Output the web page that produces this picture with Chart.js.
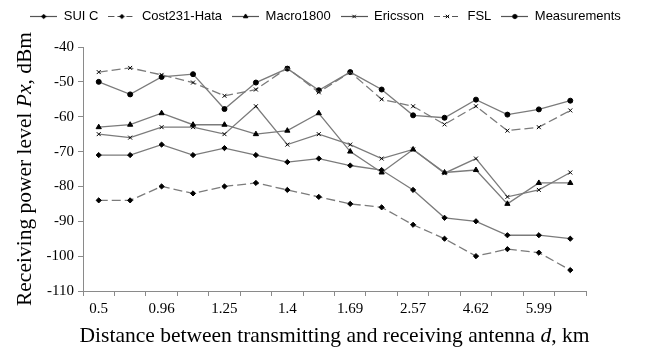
<!DOCTYPE html>
<html>
<head>
<meta charset="utf-8">
<script src="https://cdn.jsdelivr.net/npm/chart.js@4.4.1/dist/chart.umd.min.js"></script>
<style>
  html, body { margin: 0; padding: 0; background: #fff; }
  #wrap { width: 651px; height: 353px; }
</style>
</head>
<body>
<div id="wrap"><canvas id="chart" width="651" height="353"></canvas></div>
<script>
// distance labels (only every other one is printed on the axis)
var distances = ['0.5', '', '0.96', '', '1.25', '', '1.4', '', '1.69', '', '2.57', '', '4.62', '', '5.99', ''];

// receiving power level, dBm
var suiC         = [-71, -71, -68, -71, -69, -71, -73, -72, -74, -75.3, -81, -89, -90, -94, -94, -95];
var cost231      = [-84, -84, -80, -82, -80, -79, -81, -83, -85, -86, -91, -95, -100, -98, -99, -104];
var macro1800    = [-63, -62.3, -59, -62.3, -62.3, -65, -64, -59, -70, -76, -69.4, -76, -75.3, -85, -79, -79];
var ericsson     = [-65, -66, -63, -63, -65, -57, -68, -65, -68, -72, -69.4, -76.2, -72, -83, -81, -76];
var fsl          = [-47.2, -46, -48, -50.2, -54, -52.2, -46, -53, -47.2, -55, -57, -62.2, -57, -64, -63, -58.2];
var measurements = [-50, -53.6, -48.6, -47.8, -57.8, -50.2, -46.2, -52.4, -47.2, -52.2, -59.6, -60.3, -55.1, -59.4, -57.9, -55.4];

var yMin = -110, yMax = -40, yStep = 10;

var lineGray = '#7b7b7b';
var axisGray = '#8a8a8a';

var seriesDefs = [
    { label: 'SUI C',        data: suiC,         style: 'rectRot',  radius: 2.6, dash: [] },
    { label: 'Cost231-Hata', data: cost231,      style: 'rectRot',  radius: 2.6, dash: [9, 4] },
    { label: 'Macro1800',    data: macro1800,    style: 'triangle', radius: 3,   dash: [] },
    { label: 'Ericsson',     data: ericsson,     style: 'crossRot', radius: 2.8, dash: [] },
    { label: 'FSL',          data: fsl,          style: 'crossRot', radius: 2.8, dash: [9, 4] },
    { label: 'Measurements', data: measurements, style: 'circle',   radius: 2.5, dash: [] }
];

// small legend glyph: line with the marker in the middle
function legendGlyph(def) {
    var c = document.createElement('canvas');
    c.width = 27;
    c.height = 11;
    var g = c.getContext('2d');
    g.strokeStyle = '#555';
    g.lineWidth = 1.2;
    g.setLineDash(def.dash.length ? [6, 3] : []);
    g.beginPath();
    g.moveTo(0, 5.5);
    g.lineTo(27, 5.5);
    g.stroke();
    g.setLineDash([]);
    g.fillStyle = '#000';
    g.strokeStyle = '#000';
    g.lineWidth = 1;
    Chart.helpers.drawPoint(g, { pointStyle: def.style, radius: def.radius * 0.85, borderWidth: 1, rotation: 0 }, 13.5, 5.5);
    return c;
}

var glyphs = seriesDefs.map(legendGlyph);

var datasets = seriesDefs.map(function (def) {
    return {
        label: def.label,
        data: def.data,
        borderColor: lineGray,
        borderWidth: 1.3,
        borderDash: def.dash,
        tension: 0,
        fill: false,
        pointStyle: def.style,
        pointRadius: def.radius,
        pointBackgroundColor: '#000',
        pointBorderColor: '#000',
        pointBorderWidth: 1
    };
});

// axis titles with italic symbols
function drawRich(ctx, parts, cx, cy) {
    var total = 0;
    parts.forEach(function (p) {
        ctx.font = p.font;
        p.w = ctx.measureText(p.text).width;
        total += p.w;
    });
    var x = cx - total / 2;
    ctx.textAlign = 'left';
    ctx.textBaseline = 'middle';
    parts.forEach(function (p) {
        ctx.font = p.font;
        ctx.fillText(p.text, x, cy);
        x += p.w;
    });
}

var titleFont = '21.5px "Liberation Serif", "Times New Roman", serif';
var titleItalic = 'italic 21.5px "Liberation Serif", "Times New Roman", serif';

var axisTitles = {
    id: 'axisTitles',
    afterInit: function (chart) {
        // leave a gap between the legend row and the plot
        var legend = chart.legend;
        if (legend) {
            var fit = legend.fit;
            legend.fit = function () {
                fit.call(this);
                this.height += 14;
            };
        }
    },
    afterDraw: function (chart) {
        var ctx = chart.ctx;
        var area = chart.chartArea;
        ctx.save();
        ctx.fillStyle = '#000';
        drawRich(ctx, [
            { text: 'Distance between transmitting and receiving antenna ', font: titleFont },
            { text: 'd', font: titleItalic },
            { text: ', km', font: titleFont }
        ], (area.left + area.right) / 2, 336);
        ctx.translate(25, (area.top + area.bottom) / 2);
        ctx.rotate(-Math.PI / 2);
        drawRich(ctx, [
            { text: 'Receiving power level ', font: titleFont },
            { text: 'Px', font: titleItalic },
            { text: ', dBm', font: titleFont }
        ], 0, 0);
        ctx.restore();
    }
};

var ctx = document.getElementById('chart').getContext('2d');
var chart = new Chart(ctx, {
    type: 'line',
    data: { labels: distances, datasets: datasets },
    plugins: [axisTitles],
    options: {
        responsive: false,
        animation: false,
        layout: { padding: { top: 0, right: 0, left: 0, bottom: 0 } },
        plugins: {
            tooltip: { enabled: false },
            legend: {
                position: 'top',
                labels: {
                    color: '#000',
                    font: { family: '"Liberation Sans", Arial, sans-serif', size: 13 },
                    usePointStyle: true,
                    pointStyleWidth: 27,
                    padding: 10,
                    generateLabels: function (chart) {
                        return chart.data.datasets.map(function (ds, i) {
                            return {
                                text: ds.label,
                                pointStyle: glyphs[i],
                                fillStyle: '#000',
                                strokeStyle: '#000',
                                lineWidth: 0,
                                hidden: false,
                                datasetIndex: i,
                                fontColor: '#000'
                            };
                        });
                    }
                }
            }
        },
        scales: {
            x: {
                offset: true,
                grid: { offset: true, drawOnChartArea: false, drawTicks: true, tickLength: 5, color: axisGray },
                border: { color: axisGray, width: 1 },
                ticks: {
                    autoSkip: false,
                    maxRotation: 0,
                    color: '#000',
                    padding: 4,
                    font: { family: '"Liberation Serif", "Times New Roman", serif', size: 15 }
                },
                afterFit: function (scale) { scale.height = 62; }
            },
            y: {
                min: yMin,
                max: yMax,
                grid: { drawOnChartArea: false, drawTicks: true, tickLength: 5, color: axisGray },
                border: { color: axisGray, width: 1 },
                ticks: {
                    stepSize: yStep,
                    color: '#000',
                    padding: 4,
                    font: { family: '"Liberation Serif", "Times New Roman", serif', size: 15 }
                },
                afterFit: function (scale) { scale.width = 83; }
            },
            // empty strip on the right, keeps the plot narrower than the legend
            spacer: {
                type: 'linear',
                position: 'right',
                display: true,
                grid: { display: false, drawTicks: false },
                border: { display: false },
                ticks: { display: false },
                afterFit: function (scale) { scale.width = 65; }
            }
        }
    }
});
</script>
</body>
</html>
